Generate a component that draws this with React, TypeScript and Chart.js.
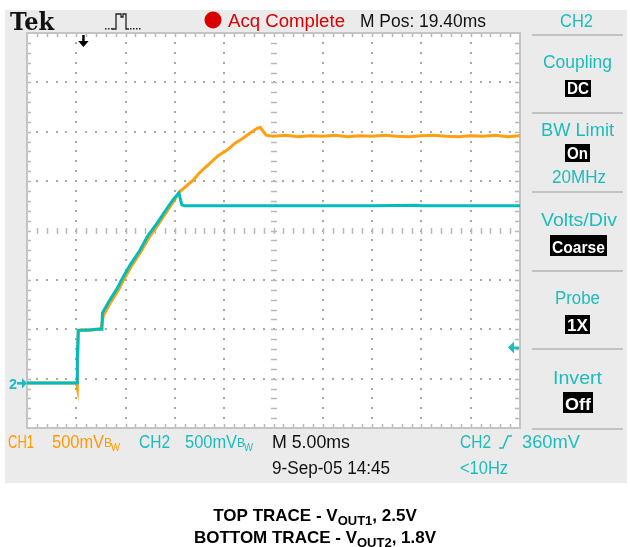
import React, { useEffect, useRef } from 'react';
import { Chart, registerables } from 'chart.js';

Chart.register(...registerables);

// ---- data (time in divisions @ 5.00 ms/div, level in divisions @ 500 mV/div) ----
const ch2Time = [0, 0.3, 0.6, 1.02, 1.02, 1.04, 1.2, 1.4, 1.52, 1.53, 1.68, 1.83, 1.95, 2.09, 2.29, 2.45, 2.64, 2.8, 2.96, 3.08, 3.14, 3.2, 4.0, 5.0, 6.0, 7.0, 7.9, 8.0, 9.0, 10.0];
const ch2Level = [0.91, 0.91, 0.91, 0.91, 1.4, 1.98, 1.98, 2.0, 2.0, 2.33, 2.59, 2.83, 3.06, 3.3, 3.6, 3.89, 4.15, 4.39, 4.62, 4.76, 4.52, 4.5, 4.5, 4.5, 4.5, 4.5, 4.51, 4.5, 4.5, 4.5];

const ch1Time = [0, 1.0, 1.02, 1.04, 1.1, 1.3, 1.5, 1.55, 1.7, 1.85, 1.97, 2.11, 2.31, 2.47, 2.66, 2.82, 2.98, 3.09, 3.23, 3.37, 3.51, 3.71, 3.87, 4.06, 4.22, 4.38, 4.52, 4.67, 4.73, 4.79, 4.85, 5.0, 5.25, 5.5, 5.75, 6.0, 6.25, 6.5, 6.75, 7.0, 7.25, 7.5, 7.75, 8.0, 8.25, 8.5, 8.75, 9.0, 9.25, 9.5, 9.75, 10.0];
const ch1Level = [0.91, 0.91, 0.81, 1.96, 1.99, 1.98, 2.01, 2.28, 2.55, 2.79, 3.02, 3.26, 3.57, 3.85, 4.12, 4.36, 4.6, 4.78, 4.9, 5.02, 5.18, 5.36, 5.51, 5.63, 5.77, 5.87, 5.97, 6.07, 6.09, 6.01, 5.93, 5.91, 5.93, 5.9, 5.92, 5.91, 5.93, 5.9, 5.92, 5.91, 5.93, 5.91, 5.9, 5.92, 5.93, 5.91, 5.9, 5.92, 5.91, 5.93, 5.9, 5.92];

const ch2Ground = 0.91;
const ch2TriggerLevel = 1.63;
const triggerTime = 1.14;

const topLabels = { acq: 'Acq Complete', mpos: 'M Pos: 19.40ms', ch: 'CH2' };
const panelItems = [
  { title: 'Coupling', value: 'DC' },
  { title: 'BW Limit', value: 'On', extra: '20MHz' },
  { title: 'Volts/Div', value: 'Coarse' },
  { title: 'Probe', value: '1X' },
  { title: 'Invert', value: 'Off' },
];

const CYAN = '#00bcbc';
const CYAN_T = '#1dbcbc';
const ORANGE = '#ffa010';
const ORANGE_T = '#ff9a00';
const RED = '#d80000';
const SCOPE_FONT = '"Liberation Sans", Arial, sans-serif';

function fitText(ctx: CanvasRenderingContext2D, text: string, x: number, baseline: number, w: number, font: string, color: string) {
  ctx.save();
  ctx.font = font;
  ctx.fillStyle = color;
  ctx.textBaseline = 'alphabetic';
  ctx.textAlign = 'left';
  const m = ctx.measureText(text).width;
  ctx.translate(x, baseline);
  ctx.scale(w / m, 1);
  ctx.fillText(text, 0, 0);
  ctx.restore();
}

function boxText(ctx: CanvasRenderingContext2D, text: string, x0: number, x1: number, y0: number, y1: number) {
  ctx.fillStyle = '#000';
  ctx.fillRect(x0, y0, x1 - x0, y1 - y0);
  fitText(ctx, text, x0 + 2, y1 - 3, x1 - x0 - 4, 'bold 16px ' + SCOPE_FONT, '#fff');
}

const scopePlugin = {
  id: 'scope',
  beforeDraw(chart: any) {
    const ctx: CanvasRenderingContext2D = chart.ctx;
    const a = chart.chartArea;
    ctx.save();
    ctx.fillStyle = '#fff';
    ctx.fillRect(0, 0, 630, 547);
    ctx.fillStyle = '#ebebeb';
    ctx.fillRect(5, 10, 622, 473);
    ctx.fillStyle = '#fff';
    ctx.fillRect(a.left, a.top, a.right - a.left, a.bottom - a.top);

    // top bar
    fitText(ctx, 'Tek', 10, 30, 44, 'bold 24px "DejaVu Serif", serif', '#111');
    ctx.strokeStyle = '#222';
    ctx.lineWidth = 1.3;
    ctx.beginPath();
    ctx.moveTo(112, 29); ctx.lineTo(116, 29); ctx.lineTo(116, 14); ctx.lineTo(121, 14); ctx.lineTo(121, 17);
    ctx.lineTo(123, 17); ctx.lineTo(123, 14); ctx.lineTo(126, 14); ctx.lineTo(126, 29); ctx.lineTo(129, 29);
    ctx.stroke();
    ctx.fillStyle = '#222';
    for (const dx of [105, 108, 111, 130, 133, 136, 139]) ctx.fillRect(dx, 28, 1.5, 1.5);

    ctx.fillStyle = RED;
    ctx.beginPath();
    ctx.arc(213, 20, 8.5, 0, Math.PI * 2);
    ctx.fill();
    fitText(ctx, topLabels.acq, 228, 27, 117, '18px ' + SCOPE_FONT, RED);
    fitText(ctx, topLabels.mpos, 360, 27, 126, '18px ' + SCOPE_FONT, '#111');
    fitText(ctx, topLabels.ch, 560, 27, 33, '18px ' + SCOPE_FONT, CYAN_T);

    // right panel
    const seps = [35, 113, 192, 271, 349, 429];
    ctx.strokeStyle = '#b4b4b4';
    ctx.lineWidth = 1.5;
    for (const y of seps) {
      ctx.beginPath(); ctx.moveTo(532, y); ctx.lineTo(623, y); ctx.stroke();
    }
    const titleY = [68, 136, 226, 304, 384];
    const titleX: [number, number][] = [[543, 612], [541, 614], [541, 617], [555, 600], [553, 602]];
    const boxes: [number, number, number, number][] = [[565, 591, 80, 97], [565, 590, 144, 162], [550, 607, 235, 256], [565, 590, 315, 334], [563, 593, 392, 413]];
    panelItems.forEach((it, i) => {
      fitText(ctx, it.title, titleX[i][0], titleY[i], titleX[i][1] - titleX[i][0], '18px ' + SCOPE_FONT, CYAN_T);
      const b = boxes[i];
      boxText(ctx, it.value, b[0], b[1], b[2], b[3]);
      if (it.extra) fitText(ctx, it.extra, 552, 183, 54, '18px ' + SCOPE_FONT, CYAN_T);
    });

    // bottom status rows
    const r1 = 448, r2 = 474;
    fitText(ctx, 'CH1', 8, r1, 26, '18px ' + SCOPE_FONT, ORANGE_T);
    fitText(ctx, '500mV', 52, r1, 52, '18px ' + SCOPE_FONT, ORANGE_T);
    fitText(ctx, 'B', 104, r1 - 1, 8, '12px ' + SCOPE_FONT, ORANGE_T);
    fitText(ctx, 'W', 111, r1 + 3, 9, '11px ' + SCOPE_FONT, ORANGE_T);
    fitText(ctx, 'CH2', 139, r1, 31, '18px ' + SCOPE_FONT, CYAN_T);
    fitText(ctx, '500mV', 185, r1, 52, '18px ' + SCOPE_FONT, CYAN_T);
    fitText(ctx, 'B', 237, r1 - 1, 8, '12px ' + SCOPE_FONT, CYAN_T);
    fitText(ctx, 'W', 244, r1 + 3, 9, '11px ' + SCOPE_FONT, CYAN_T);
    fitText(ctx, 'M 5.00ms', 272, r1, 78, '18px ' + SCOPE_FONT, '#111');
    fitText(ctx, 'CH2', 460, r1, 31, '18px ' + SCOPE_FONT, CYAN_T);
    ctx.strokeStyle = CYAN_T;
    ctx.lineWidth = 1.5;
    ctx.beginPath();
    ctx.moveTo(499, r1); ctx.lineTo(503, r1); ctx.lineTo(508, r1 - 12); ctx.lineTo(512, r1 - 12);
    ctx.stroke();
    fitText(ctx, '360mV', 522, r1, 58, '18px ' + SCOPE_FONT, CYAN_T);
    fitText(ctx, '9-Sep-05 14:45', 272, r2, 118, '18px ' + SCOPE_FONT, '#111');
    fitText(ctx, '<10Hz', 460, r2, 48, '18px ' + SCOPE_FONT, CYAN_T);

    // captions
    const cap = (y: number, pre: string, sub: string, post: string) => {
      ctx.fillStyle = '#000';
      ctx.textBaseline = 'alphabetic';
      ctx.textAlign = 'left';
      const f1 = 'bold 17px "Liberation Sans", Arial, sans-serif';
      const f2 = 'bold 13px "Liberation Sans", Arial, sans-serif';
      ctx.font = f1; const w1 = ctx.measureText(pre).width; const w3 = ctx.measureText(post).width;
      ctx.font = f2; const w2 = ctx.measureText(sub).width;
      let x = 315 - (w1 + w2 + w3) / 2;
      ctx.font = f1; ctx.fillText(pre, x, y); x += w1;
      ctx.font = f2; ctx.fillText(sub, x, y + 4); x += w2;
      ctx.font = f1; ctx.fillText(post, x, y);
    };
    cap(521, 'TOP TRACE - V', 'OUT1', ', 2.5V');
    cap(543, 'BOTTOM TRACE - V', 'OUT2', ', 1.8V');
    ctx.restore();
  },
  beforeDatasetsDraw(chart: any) {
    const ctx: CanvasRenderingContext2D = chart.ctx;
    const xs = chart.scales.x, ys = chart.scales.y;
    const a = chart.chartArea;
    ctx.save();
    // dotted graticule
    ctx.fillStyle = '#a8a8a8';
    for (let i = 1; i < 10; i++) {
      if (i === 5) continue;
      const px = Math.round(xs.getPixelForValue(i));
      for (let j = 1; j < 40; j++) {
        const py = Math.round(ys.getPixelForValue(j * 0.2));
        ctx.fillRect(px - 1, py - 1, 2, 2);
      }
    }
    for (let k = 1; k < 8; k++) {
      if (k === 4) continue;
      const py = Math.round(ys.getPixelForValue(k));
      for (let j = 1; j < 50; j++) {
        const px = Math.round(xs.getPixelForValue(j * 0.2));
        ctx.fillRect(px - 1, py - 1, 2, 2);
      }
    }
    // center lines with minor ticks
    ctx.strokeStyle = '#b8b8b8';
    ctx.lineWidth = 1.5;
    const cx = Math.round(xs.getPixelForValue(5));
    const cy = Math.round(ys.getPixelForValue(4));
    ctx.beginPath();
    for (let j = 1; j < 40; j++) {
      const py = Math.round(ys.getPixelForValue(j * 0.2)) + 0.5;
      ctx.moveTo(cx - 3, py); ctx.lineTo(cx + 3, py);
    }
    for (let j = 1; j < 50; j++) {
      const px = Math.round(xs.getPixelForValue(j * 0.2)) + 0.5;
      ctx.moveTo(px, cy - 3); ctx.lineTo(px, cy + 3);
    }
    // border ticks
    for (let j = 1; j < 50; j++) {
      const px = Math.round(xs.getPixelForValue(j * 0.2)) + 0.5;
      ctx.moveTo(px, a.top); ctx.lineTo(px, a.top + 4);
      ctx.moveTo(px, a.bottom); ctx.lineTo(px, a.bottom - 4);
    }
    for (let j = 1; j < 40; j++) {
      const py = Math.round(ys.getPixelForValue(j * 0.2)) + 0.5;
      ctx.moveTo(a.left, py); ctx.lineTo(a.left + 4, py);
      ctx.moveTo(a.right, py); ctx.lineTo(a.right - 5, py);
    }
    ctx.stroke();
    ctx.strokeStyle = '#c4c4c4';
    ctx.lineWidth = 2;
    ctx.strokeRect(a.left, a.top, a.right - a.left, a.bottom - a.top);
    ctx.restore();
  },
  afterDraw(chart: any) {
    const ctx: CanvasRenderingContext2D = chart.ctx;
    const xs = chart.scales.x, ys = chart.scales.y;
    const a = chart.chartArea;
    ctx.save();
    // trigger position arrow
    const tx = xs.getPixelForValue(triggerTime);
    ctx.fillStyle = '#000';
    ctx.fillRect(tx - 1, a.top + 2, 2.5, 8);
    ctx.beginPath();
    ctx.moveTo(tx - 5, a.top + 8); ctx.lineTo(tx + 5.5, a.top + 8); ctx.lineTo(tx + 0.25, a.top + 14); ctx.closePath();
    ctx.fill();
    // ground marker "2"
    const gy = ys.getPixelForValue(ch2Ground);
    fitText(ctx, '2', 9, gy + 6, 8, 'bold 15px ' + SCOPE_FONT, CYAN_T);
    ctx.fillStyle = CYAN_T;
    ctx.fillRect(17, gy - 1, 6, 2.5);
    ctx.beginPath();
    ctx.moveTo(22, gy - 5); ctx.lineTo(27, gy + 0.25); ctx.lineTo(22, gy + 5.5); ctx.closePath();
    ctx.fill();
    // trigger level marker
    const ly = ys.getPixelForValue(ch2TriggerLevel);
    ctx.beginPath();
    ctx.moveTo(508, ly); ctx.lineTo(514, ly - 6); ctx.lineTo(514, ly + 6); ctx.closePath();
    ctx.fill();
    ctx.fillRect(513, ly - 1, 6, 2.5);
    ctx.restore();
  },
};

export default function App() {
  const ref = useRef<HTMLCanvasElement>(null);
  useEffect(() => {
    if (!ref.current) return;
    const chart = new Chart(ref.current, {
      type: 'line',
      data: {
        datasets: [
          {
            label: 'CH2',
            data: ch2Time.map((t, i) => ({ x: t, y: ch2Level[i] })),
            borderColor: CYAN,
            borderWidth: 3,
            pointRadius: 0,
            tension: 0,
            fill: false,
          },
          {
            label: 'CH1',
            data: ch1Time.map((t, i) => ({ x: t, y: ch1Level[i] })),
            borderColor: ORANGE,
            borderWidth: 3,
            pointRadius: 0,
            tension: 0,
            fill: false,
          },
        ],
      },
      options: {
        animation: false,
        responsive: false,
        devicePixelRatio: 1,
        layout: { padding: { left: 27, right: 110, top: 33, bottom: 119 } },
        plugins: { legend: { display: false }, tooltip: { enabled: false } },
        scales: {
          x: { type: 'linear', min: 0, max: 10, display: false },
          y: { type: 'linear', min: 0, max: 8, display: false },
        },
      },
      plugins: [scopePlugin],
    });
    return () => chart.destroy();
  }, []);
  return (
    <canvas
      ref={ref}
      width={630}
      height={547}
      style={{ position: 'absolute', left: 0, top: 0, width: 630, height: 547 }}
    />
  );
}
